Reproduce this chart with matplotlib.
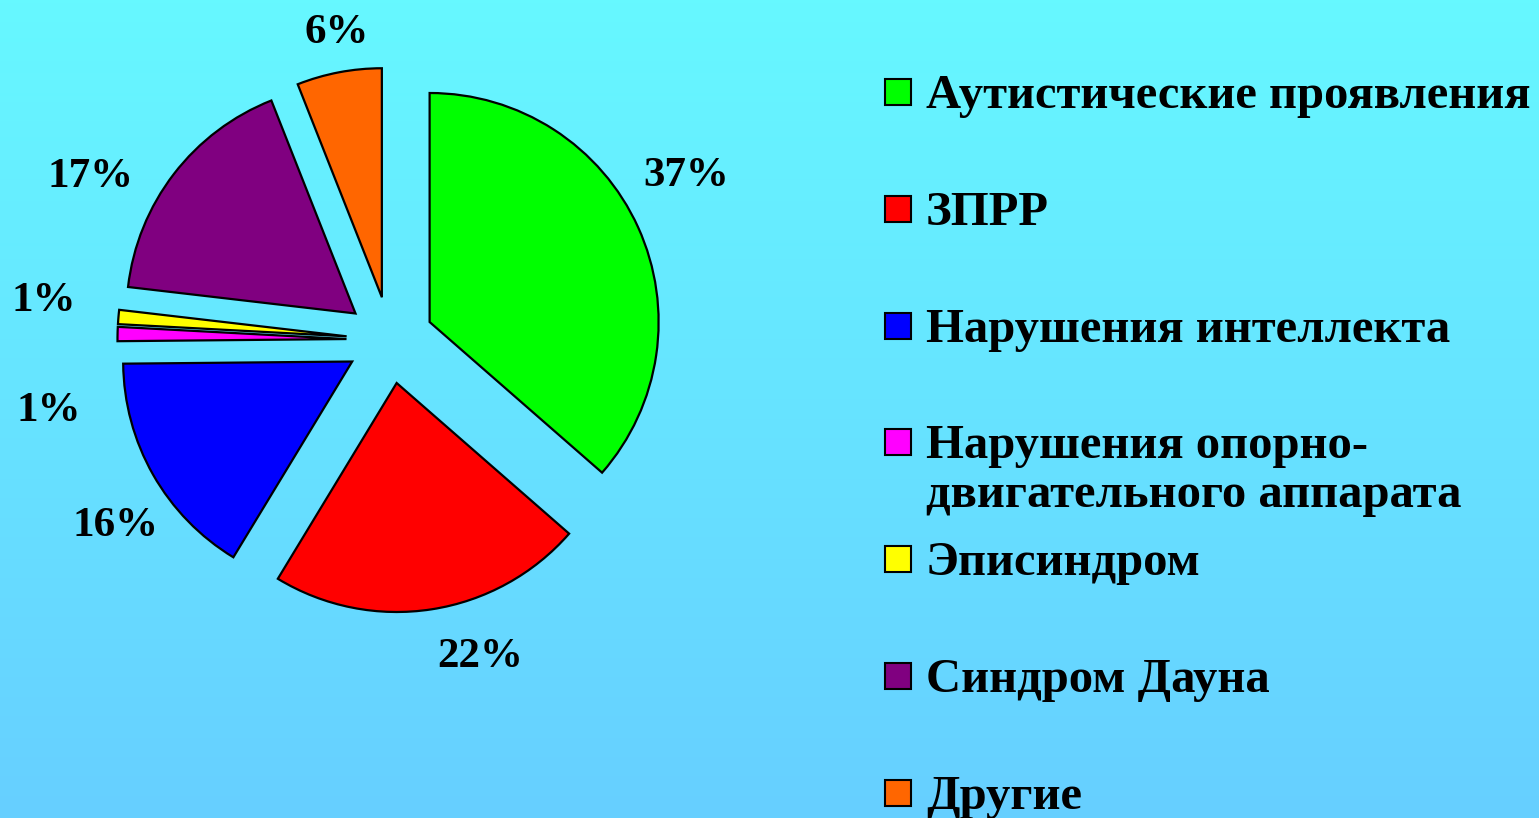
import numpy as np
import matplotlib.pyplot as plt
from matplotlib.patches import Rectangle

plt.rcParams['font.family'] = ['Liberation Serif', 'DejaVu Serif']
plt.rcParams['font.weight'] = 'bold'

# data (slice sizes; labels show them rounded)
labels = ['Аутистические проявления', 'ЗПРР', 'Нарушения интеллекта',
          'Нарушения опорно-\nдвигательного аппарата', 'Эписиндром',
          'Синдром Дауна', 'Другие']
shares = [36.5, 22.3, 16.2, 1.0, 1.0, 17.2, 6.0]
colors = ['#00FF00', '#FF0000', '#0000FF', '#FF00FF', '#FFFF00', '#800080', '#FF6600']

# hand placement of the percent labels (angle shift in deg, distance in radii)
lab_dang = [4.5, 7, 4.5, 13, -1.5, 9, -1]
lab_dist = [1.48, 1.44, 1.45, 1.52, 1.52, 1.49, 1.36]

W, H = 1539, 818
fig = plt.figure(figsize=(W / 100, H / 100), dpi=100)

# background gradient
bg = fig.add_axes([0, 0, 1, 1])
top = np.array([0x66, 0xF8, 0xFF]) / 255
bottom = np.array([0x66, 0xCF, 0xFF]) / 255
t = np.linspace(0, 1, 256)[:, None]
grad = top * (1 - t) + bottom * t
bg.imshow(grad[:, None, :], aspect='auto', extent=[0, 1, 0, 1])
bg.axis('off')

# pie: centre at (390, 340) px from top-left, radius 229 px
cx, cy, r = 390, 340, 229
half = 340
ax = fig.add_axes([(cx - half) / W, (H - cy - half) / H, 2 * half / W, 2 * half / H])

wedges, _ = ax.pie(
    shares, colors=colors, startangle=90, counterclock=False,
    explode=[0.19] * len(shares), radius=1,
    wedgeprops=dict(edgecolor='black', linewidth=1.6))
ax.set_xlim(-half / r, half / r)
ax.set_ylim(-half / r, half / r)
ax.set_aspect('equal')
ax.axis('off')

for w, v, da, d in zip(wedges, shares, lab_dang, lab_dist):
    ang = np.deg2rad((w.theta1 + w.theta2) / 2 + da)
    ax.text(d * np.cos(ang), d * np.sin(ang), f'{int(v + 0.5)}%', fontsize=31,
            fontweight='bold', ha='center', va='center')

# legend drawn in pixel coordinates
lg = fig.add_axes([0, 0, 1, 1])
lg.set_xlim(0, W)
lg.set_ylim(H, 0)
lg.axis('off')
y0, step, line_gap = 92, 116.8, 49
for i, (lab, col) in enumerate(zip(labels, colors)):
    yc = y0 + i * step
    lg.add_patch(Rectangle((885, yc - 13), 26, 26, facecolor=col,
                           edgecolor='black', linewidth=1.5))
    # baseline of a multi-line text is its last line, so push it down
    lg.text(926, yc + 16 + line_gap * lab.count('\n'), lab, fontsize=35,
            fontweight='bold', va='baseline', ha='left', linespacing=1.15)

fig.savefig('out.png', dpi=100)
